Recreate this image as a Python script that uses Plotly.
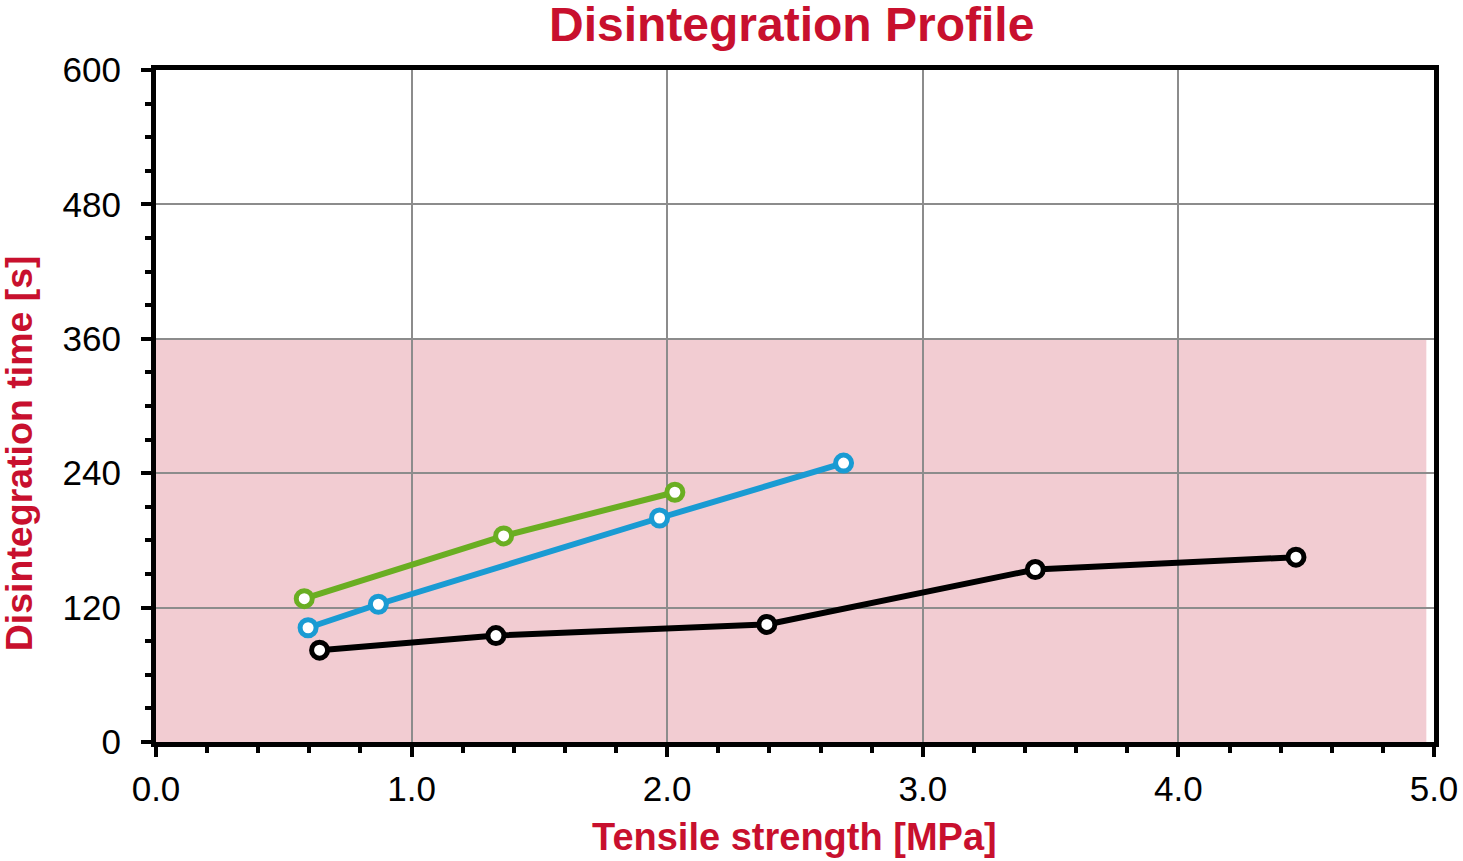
import plotly.graph_objects as go

# Data
green_x = [0.58, 1.36, 2.03]
green_y = [128, 184, 223]
blue_x = [0.595, 0.87, 1.97, 2.69]
blue_y = [102, 123, 200, 249]
black_x = [0.64, 1.33, 2.39, 3.44, 4.46]
black_y = [82, 95, 105, 154, 165]

x_ticks = [0, 1, 2, 3, 4, 5]
x_labels = ["0.0", "1.0", "2.0", "3.0", "4.0", "5.0"]
y_ticks = [0, 120, 240, 360, 480, 600]

TITLE = "Disintegration Profile"
X_TITLE = "Tensile strength [MPa]"
Y_TITLE = "Disintegration time [s]"

CRIMSON = "#C8102E"
PINK = "#F2CCD2"
GREEN = "#6AAE22"
BLUE = "#1A9BD3"
BLACK = "#000000"
FONT = "Liberation Sans, Arial, sans-serif"

fig = go.Figure()


def add_series(xs, ys, color):
    fig.add_trace(go.Scatter(
        x=xs, y=ys, mode="lines+markers",
        line=dict(color=color, width=6),
        marker=dict(symbol="circle", size=16, color="white",
                    line=dict(color=color, width=5)),
        showlegend=False, cliponaxis=False,
    ))


add_series(black_x, black_y, BLACK)
add_series(blue_x, blue_y, BLUE)
add_series(green_x, green_y, GREEN)

# pink acceptance band below 360 s
fig.add_shape(type="rect", xref="x", yref="y", x0=0, x1=4.97, y0=0, y1=360,
              fillcolor=PINK, line=dict(width=0), layer="below")

axis_common = dict(
    showline=True, linecolor=BLACK, linewidth=5, mirror=True,
    ticks="outside", ticklen=10, tickwidth=4, tickcolor=BLACK,
    showgrid=True, gridcolor="#8C8C8C", gridwidth=2,
    zeroline=False, automargin=False,
    tickfont=dict(family=FONT, size=35, color="#000000"),
)

fig.update_xaxes(
    range=[0, 5], tickvals=x_ticks, ticktext=x_labels,
    ticklabelstandoff=2, ticklabeloverflow="allow",
    minor=dict(dtick=0.2, ticks="outside", ticklen=6, tickwidth=4,
               tickcolor=BLACK, showgrid=False),
    **axis_common,
)
fig.update_yaxes(
    range=[0, 600], tickvals=y_ticks,
    ticklabelstandoff=13,
    minor=dict(dtick=30, ticks="outside", ticklen=6, tickwidth=4,
               tickcolor=BLACK, showgrid=False),
    **axis_common,
)

fig.update_layout(
    width=1463, height=861,
    margin=dict(l=156, r=29, t=70, b=119, autoexpand=False),
    paper_bgcolor="white", plot_bgcolor="white",
    font=dict(family=FONT),
    annotations=[
        dict(text="<b>" + TITLE + "</b>", xref="paper", yref="paper",
             x=0.497, y=1.067, xanchor="center", yanchor="middle",
             showarrow=False, font=dict(family=FONT, size=48, color=CRIMSON)),
        dict(text="<b>" + X_TITLE + "</b>", xref="paper", yref="paper",
             x=0.4995, y=-0.142, xanchor="center", yanchor="middle",
             showarrow=False, font=dict(family=FONT, size=38, color=CRIMSON)),
        dict(text="<b>" + Y_TITLE + "</b>", xref="paper", yref="paper",
             x=-0.107, y=0.43, xanchor="center", yanchor="middle",
             textangle=-90,
             showarrow=False, font=dict(family=FONT, size=37.5, color=CRIMSON)),
    ],
)

fig.write_html(
    "out.html",
    config={"displayModeBar": False},
    post_script="document.body.style.margin='0';document.body.style.overflow='hidden';",
)
